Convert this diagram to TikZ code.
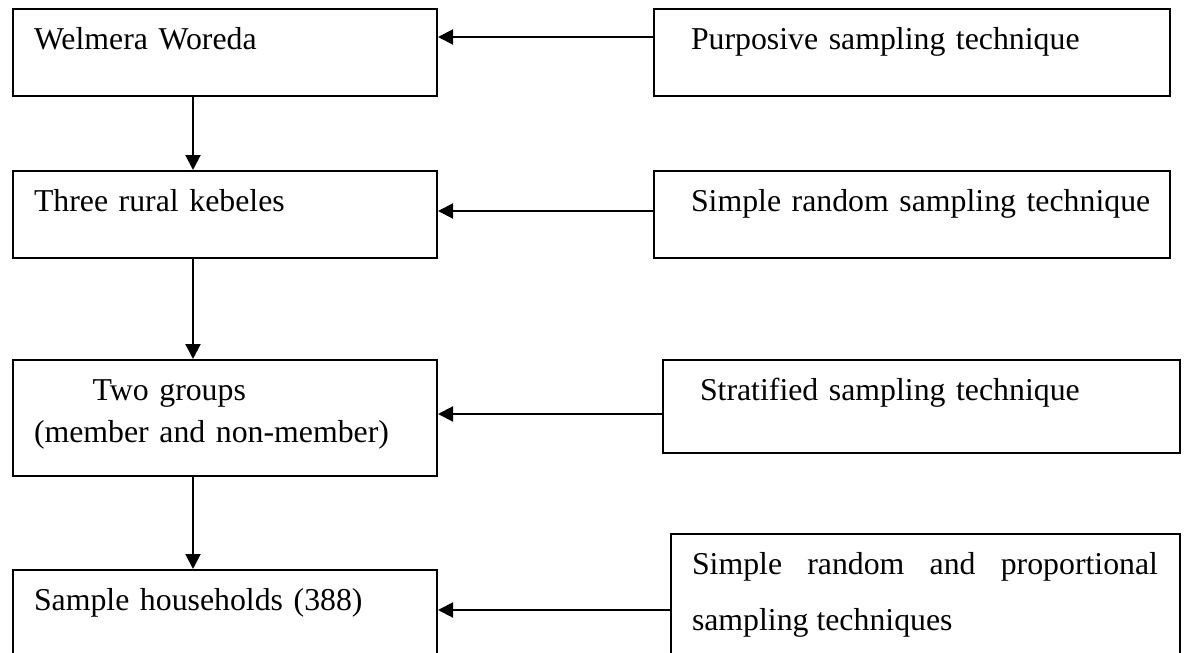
\documentclass[tikz,border=0pt]{standalone}
\usepackage{fontspec}
\setmainfont{Liberation Serif}
\usepackage{tikz}
\usetikzlibrary{arrows.meta}

\begin{document}
\begin{tikzpicture}[
    x=1pt, y=-1pt,
    >={Triangle[length=15pt, width=15pt]},
    line width=2pt,
    box/.style={draw, anchor=north west, inner sep=0pt, align=left,
        text height=40pt, font=\fontsize{31.8}{42}\selectfont},
    lpad/.style={execute at begin node={\leftskip=#1pt\relax}}
]

% Frame
\path[use as bounding box, clip] (0,0) rectangle (1184,653);

% Left column
\node[box, lpad=21, text width=424pt, text depth=47pt]
    (woreda) at (12,8) {Welmera Woreda};
\node[box, lpad=21, text width=424pt, text depth=47pt]
    (kebeles) at (12,170) {Three rural kebeles};
\node[box, lpad=21, text width=424pt, text depth=76pt]
    (groups) at (12,359) {\hspace*{58.7pt}Two groups\\(member and non-member)};
\node[box, lpad=21, text width=424pt, text depth=60pt]
    (households) at (12,569) {Sample households (388)};

% Right column
\node[box, lpad=37, text width=516pt, text depth=47pt]
    (purposive) at (653,8) {Purposive sampling technique};
\node[box, lpad=37, text width=516pt, text depth=47pt]
    (simple) at (653,170) {Simple random sampling technique};
\node[box, lpad=37, text width=517pt, text depth=53pt]
    (stratified) at (662,359) {Stratified sampling technique};
\node[box, align=justify, text width=509pt, text depth=90pt,
    font=\fontsize{31.8}{56}\selectfont,
    execute at begin node={\leftskip=21pt\rightskip=22pt\tolerance=9999\relax}]
    (mixed) at (670,533) {Simple random and proportional sampling techniques};

% Downward arrows
\coordinate (spine) at (193,0);
\draw[->] (woreda.south -| spine) -- (kebeles.north -| spine);
\draw[->] (kebeles.south -| spine) -- (groups.north -| spine);
\draw[->] (groups.south -| spine) -- (households.north -| spine);

% Technique arrows
\draw[->] (purposive.west |- 0,37) -- (woreda.east |- 0,37);
\draw[->] (simple.west |- 0,211) -- (kebeles.east |- 0,211);
\draw[->] (stratified.west |- 0,414) -- (groups.east |- 0,414);
\draw[->] (mixed.west |- 0,610) -- (households.east |- 0,610);
\end{tikzpicture}
\end{document}
